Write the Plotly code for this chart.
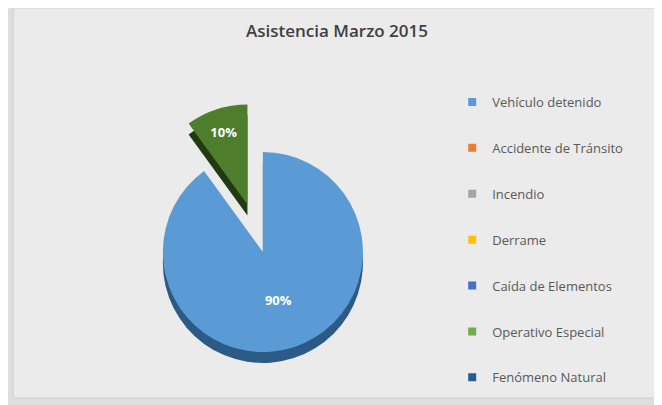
import plotly.graph_objects as go

categories = ["Vehículo detenido", "Accidente de Tránsito", "Incendio", "Derrame",
              "Caída de Elementos", "Operativo Especial", "Fenómeno Natural"]
values = [90, 0, 0, 0, 0, 10, 0]
legend_colors = ["#5B9BD5", "#ED7D31", "#A5A5A5", "#FFC000", "#4472C4", "#70AD47", "#255E91"]
slice_colors = ["#5B9BD5", "#ED7D31", "#A5A5A5", "#FFC000", "#4472C4", "#4E7D2B", "#255E91"]
depth_colors = ["#2C5A86", "#9A4F1E", "#6B6B6B", "#A67C00", "#2B4A80", "#203A12", "#173C5E"]
title_text = "Asistencia Marzo 2015"

total = sum(values)
labels_text = [f"{round(v / total * 100)}%" if v > 0 else "" for v in values]
pulls = [0.5 if c == "Operativo Especial" else 0 for c in categories]

fig = go.Figure()

# depth layer (3D side)
fig.add_trace(go.Pie(
    labels=categories, values=values, sort=False, direction="clockwise", rotation=0,
    marker=dict(colors=depth_colors, line=dict(width=0)), pull=pulls,
    textinfo="none", showlegend=False, hoverinfo="skip",
    domain=dict(x=[0.11, 0.66], y=[0.0, 0.741]),
))
# top face
fig.add_trace(go.Pie(
    labels=categories, values=values, sort=False, direction="clockwise", rotation=0,
    marker=dict(colors=slice_colors, line=dict(width=0)), pull=pulls,
    text=labels_text, textinfo="text", textposition="inside",
    insidetextorientation="horizontal",
    textfont=dict(family="Open Sans", size=13, color="white", weight="bold"),
    showlegend=False,
    domain=dict(x=[0.11, 0.66], y=[0.027, 0.768]),
))

# legend entries
for name, col in zip(categories, legend_colors):
    fig.add_trace(go.Scatter(
        x=[0], y=[0], mode="markers", name=name, legendgroup=name,
        marker=dict(symbol="square", size=8, color=col),
        hoverinfo="skip",
    ))

fig.add_shape(type="rect", xref="paper", yref="paper", x0=0.008, x1=0.99, y0=0.037, y1=1.0,
              fillcolor="#EBEBEB", line=dict(color="#D0D0D0", width=1), layer="below")

fig.update_layout(
    width=662, height=405,
    margin=dict(l=0, r=0, t=0, b=0),
    paper_bgcolor="#DEDEDE", plot_bgcolor="rgba(0,0,0,0)",
    title=dict(text=title_text, x=0.497, xanchor="center", y=0.943, yanchor="middle",
               font=dict(family="Open Sans", size=17, color="#404040", weight=600)),
    xaxis=dict(visible=False, range=[1, 2]),
    yaxis=dict(visible=False, range=[1, 2]),
    legend=dict(x=0.671, xanchor="left", y=0.805, yanchor="top",
                font=dict(family="Open Sans", size=13, color="#595959"),
                tracegroupgap=26, bgcolor="rgba(0,0,0,0)", itemwidth=30),
    showlegend=True,
)

fig.write_html("out.html")
